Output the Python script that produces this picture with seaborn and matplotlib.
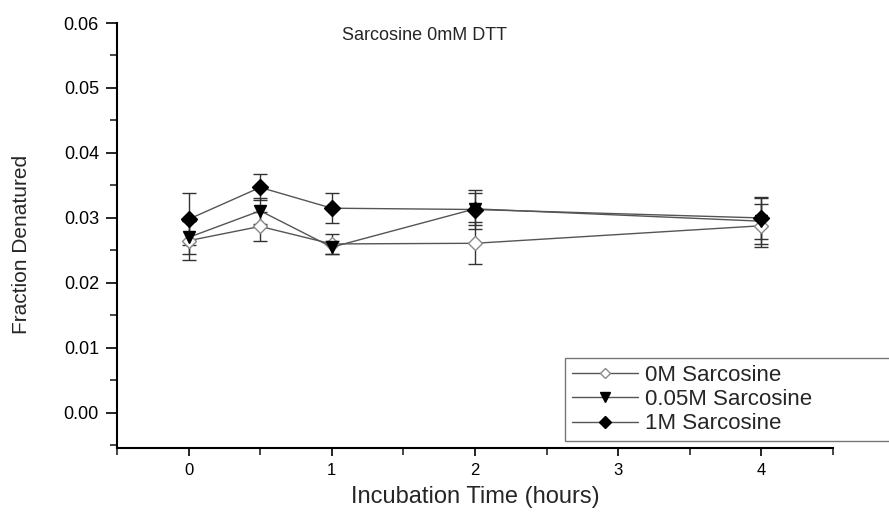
import matplotlib
matplotlib.use("Agg")
import matplotlib.pyplot as plt
import seaborn as sns
import pandas as pd
import numpy as np
from matplotlib.ticker import MultipleLocator

times = [0, 0.5, 1, 2, 4]
series_names = ["0M Sarcosine", "0.05M Sarcosine", "1M Sarcosine"]
vals_0M = [0.0265, 0.0287, 0.0260, 0.0261, 0.0288]
err_0M = [0.0030, 0.0022, 0.0015, 0.0032, 0.0033]
vals_005M = [0.0270, 0.0311, 0.0255, 0.0314, 0.0295]
err_005M = [0.0025, 0.0020, 0.0010, 0.0025, 0.0035]
vals_1M = [0.0298, 0.0347, 0.0315, 0.0313, 0.0300]
err_1M = [0.0040, 0.0020, 0.0023, 0.0030, 0.0032]

sns.set_theme(style="ticks")
plt.rcParams['font.family'] = ['Liberation Sans', 'DejaVu Sans']

df = pd.DataFrame({
    "time": times * 3,
    "value": vals_0M + vals_005M + vals_1M,
    "err": err_0M + err_005M + err_1M,
    "series": sum([[s] * len(times) for s in series_names], []),
})

fig = plt.figure(figsize=(8.89, 5.17), dpi=100)
ax = fig.add_axes([0.1316, 0.1335, 0.8054, 0.822])

markers = {"0M Sarcosine": "D", "0.05M Sarcosine": "v", "1M Sarcosine": "D"}
mfc = {"0M Sarcosine": "white", "0.05M Sarcosine": "black", "1M Sarcosine": "black"}
msize = {"0M Sarcosine": 7, "0.05M Sarcosine": 9, "1M Sarcosine": 8}

for s in series_names:
    d = df[df.series == s]
    ax.errorbar(d.time, d.value, yerr=d.err, fmt="none", ecolor="#333333",
                elinewidth=1, capsize=5, capthick=1, zorder=2)
    sns.lineplot(data=d, x="time", y="value", ax=ax, color="#555555", lw=1,
                 marker=markers[s], markersize=msize[s], markerfacecolor=mfc[s],
                 markeredgecolor="black" if s != "0M Sarcosine" else "#888888",
                 markeredgewidth=1, label=s, zorder=3)

ax.set_xlim(-0.5, 4.5)
ax.set_ylim(-0.0054, 0.06)
ax.set_xticks([0, 1, 2, 3, 4])
ax.xaxis.set_minor_locator(MultipleLocator(0.5))
ax.set_yticks([0.00, 0.01, 0.02, 0.03, 0.04, 0.05, 0.06])
ax.set_yticklabels(["0.00", "0.01", "0.02", "0.03", "0.04", "0.05", "0.06"])
ax.yaxis.set_minor_locator(MultipleLocator(0.005))
ax.tick_params(axis="y", which="major", direction="out", length=8, width=1.2,
               labelsize=13, pad=5, colors="black")
ax.tick_params(axis="y", which="minor", direction="out", length=5, width=1.2)
ax.tick_params(axis="x", which="major", direction="out", length=6, width=1.2,
               labelsize=12, pad=5, colors="black")
ax.tick_params(axis="x", which="minor", direction="out", length=5, width=1.2)
for sp in ["top", "right"]:
    ax.spines[sp].set_visible(False)
for sp in ["left", "bottom"]:
    ax.spines[sp].set_linewidth(1.5)
    ax.spines[sp].set_color("black")

ax.set_xlabel("Incubation Time (hours)", fontsize=17, va="center")
ax.xaxis.set_label_coords(0.5, -0.115)
ax.set_ylabel("Fraction Denatured", fontsize=15, va="center")
ax.yaxis.set_label_coords(-0.133, 0.48)
ax.text(0.43, 0.99, "Sarcosine 0mM DTT", transform=ax.transAxes, ha="center",
        va="top", fontsize=13)

leg = ax.legend(loc="upper left", bbox_to_anchor=(565 / 889, 1 - 443 / 517, 400 / 889, 85 / 517),
                bbox_transform=fig.transFigure, mode="expand", frameon=True, fancybox=False,
                fontsize=16, handlelength=3.0, borderpad=0.3, labelspacing=0.15,
                handletextpad=0.3, borderaxespad=0, markerscale=0.8)
leg.get_frame().set_edgecolor("#555555")
leg.get_frame().set_linewidth(1)

fig.savefig("out.png", dpi=100)
